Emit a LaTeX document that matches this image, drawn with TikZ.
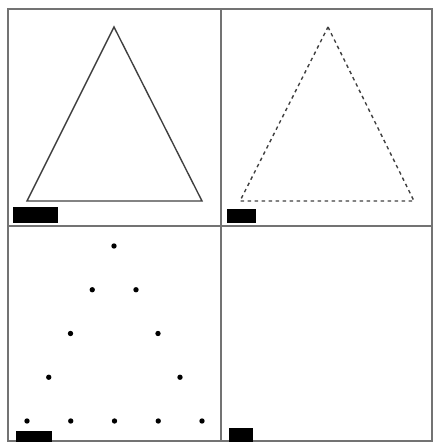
\documentclass[tikz,border=0pt]{standalone}
\usetikzlibrary{calc}

\begin{document}
\begin{tikzpicture}[x=1pt, y=-1pt,
    panel/.style={draw=black!55, line width=1.6pt},
    tri/.style={draw=black!75, line width=1.4pt, line join=miter},
    dashtri/.style={tri, dash pattern=on 3.5pt off 3.5pt},
    bar/.style={fill=black},
  ]
  \useasboundingbox (0,0) rectangle (433,442);

  % frame and dividers
  \draw[panel] (8,9) rectangle (432,441);
  \draw[panel] (221,9) -- (221,441);
  \draw[panel] (8,226) -- (432,226);

  % top left: solid triangle
  \coordinate (apexA) at (114,27);
  \coordinate (leftA) at (27,201);
  \coordinate (rightA) at (202,201);
  \draw[tri] (apexA) -- (rightA) -- (leftA) -- cycle;
  \fill[bar] (13,207) rectangle (58,223);

  % top right: dashed triangle
  \coordinate (apexB) at (328,27);
  \coordinate (leftB) at (240,201);
  \coordinate (rightB) at (414,201);
  \draw[dashtri] (apexB) -- (rightB) -- (leftB) -- cycle;
  \fill[bar] (227,209) rectangle (256,223);

  % bottom left: dots
  \coordinate (apexC) at (114,246);
  \coordinate (leftC) at (27,421);
  \coordinate (rightC) at (202,421);
  \foreach \t in {0,0.25,0.5,0.75} {
    \fill ($(apexC)!\t!(leftC)$) circle (2.7);
    \fill ($(leftC)!\t!(rightC)$) circle (2.7);
    \fill ($(rightC)!\t!(apexC)$) circle (2.7);
  }
  \fill[bar] (16,431) rectangle (52,442);

  % bottom right: empty
  \fill[bar] (229,428) rectangle (253,442);
\end{tikzpicture}
\end{document}
